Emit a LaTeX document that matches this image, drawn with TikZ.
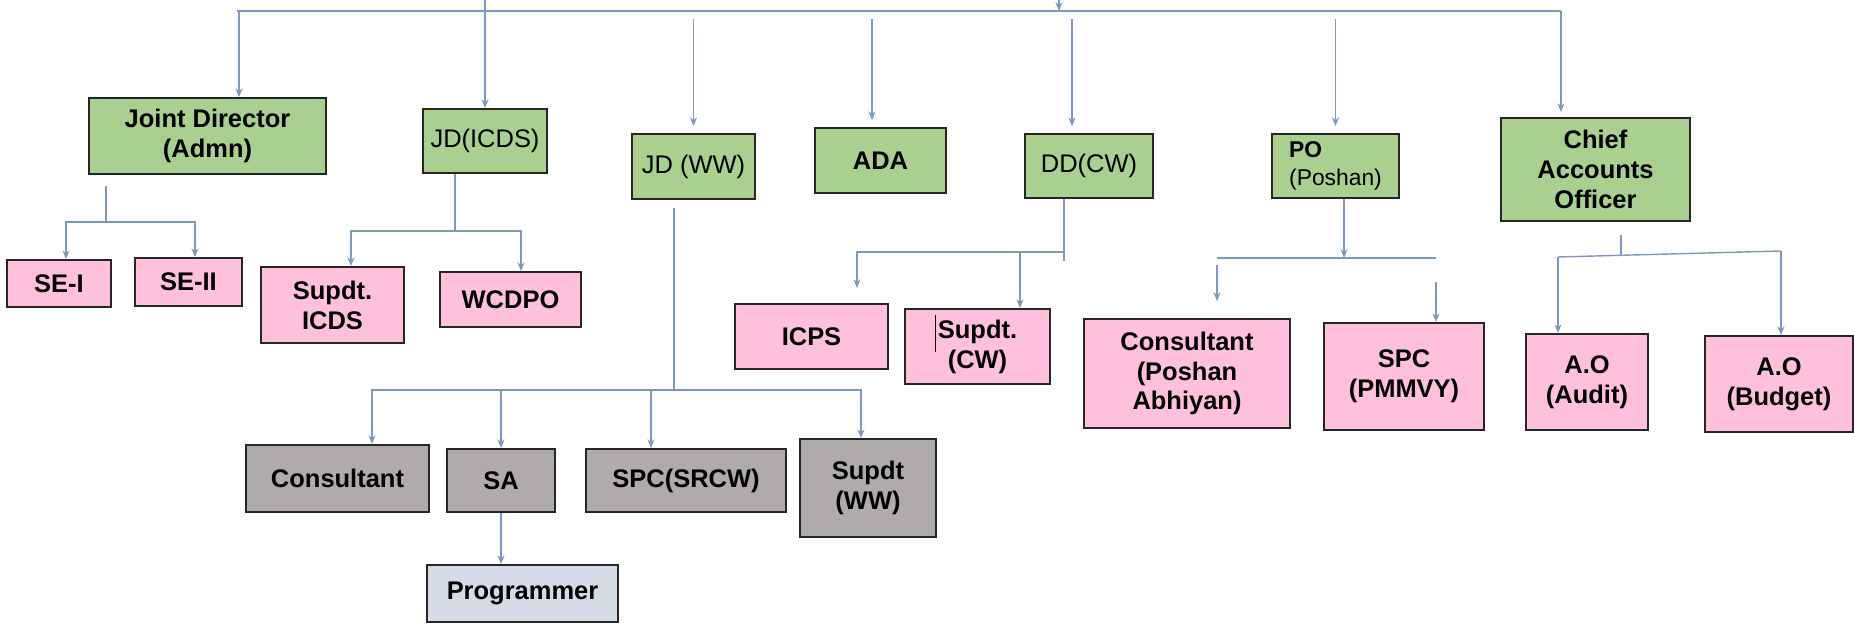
\documentclass[tikz,border=0pt]{standalone}
\usepackage{fontspec}
\setmainfont{Liberation Sans}
\usetikzlibrary{arrows.meta}
\definecolor{boxgreen}{RGB}{169,208,142}
\definecolor{boxpink}{RGB}{255,192,220}
\definecolor{boxgrey}{RGB}{175,171,171}
\definecolor{boxblue}{RGB}{214,220,229}
\definecolor{linkblue}{RGB}{127,152,190}
\begin{document}
\begin{tikzpicture}[x=0.02cm, y=-0.02cm,
        post/.style={draw=black!85, line width=1pt, align=center, inner sep=2pt,
                     font=\fontsize{14.5}{17}\selectfont\bfseries},
        thinfont/.style={font=\fontsize{14.5}{17}\selectfont},
        greenpost/.style={post, fill=boxgreen},
        pinkpost/.style={post, fill=boxpink},
        greypost/.style={post, fill=boxgrey},
        bluepost/.style={post, fill=boxblue},
        conn/.style={draw=linkblue, line width=0.8pt},
        arr/.style={conn, -{Stealth[length=5pt,width=4pt]}},
        loose/.style={shorten <=0.16cm, shorten >=0.14cm}]
    \useasboundingbox (0,0) rectangle (1854,624);
    % first level
    \node[greenpost, minimum width=4.74cm, minimum height=1.52cm] (jdadmn) at (207.5,136) {Joint Director\\(Admn)};
    \node[greenpost, thinfont, minimum width=2.48cm, minimum height=1.28cm] (jdicds) at (485,141) {JD(ICDS)};
    \node[greenpost, thinfont, minimum width=2.46cm, minimum height=1.30cm] (jdww) at (693.5,166.5) {JD (WW)};
    \node[greenpost, minimum width=2.62cm, minimum height=1.30cm] (ada) at (880.5,160.5) {ADA};
    \node[greenpost, thinfont, minimum width=2.56cm, minimum height=1.28cm] (ddcw) at (1089,166) {DD(CW)};
    \node[greenpost, align=left, font=\fontsize{13}{16}\selectfont\bfseries,
          minimum width=2.54cm, minimum height=1.28cm] (po) at (1335.5,166) {PO\\{\mdseries (Poshan)}};
    \node[greenpost, minimum width=3.78cm, minimum height=2.06cm] (cao) at (1595.5,169.5) {Chief\\Accounts\\Officer};
    % second level
    \node[pinkpost, minimum width=2.08cm, minimum height=0.94cm] (se1) at (59,283.5) {SE-I};
    \node[pinkpost, minimum width=2.14cm, minimum height=0.96cm] (se2) at (188.5,282) {SE-II};
    \node[pinkpost, minimum width=2.86cm, minimum height=1.52cm] (supicds) at (332.5,305) {Supdt.\\ICDS};
    \node[pinkpost, minimum width=2.82cm, minimum height=1.10cm] (wcdpo) at (510.5,299.5) {WCDPO};
    \node[pinkpost, minimum width=3.06cm, minimum height=1.30cm] (icps) at (811.5,336.5) {ICPS};
    \node[pinkpost, minimum width=2.90cm, minimum height=1.50cm] (supcw) at (977.5,346.5) {Supdt.\\(CW)};
    \node[pinkpost, minimum width=4.12cm, minimum height=2.18cm] (consposhan) at (1187,373.5) {Consultant\\(Poshan\\Abhiyan)};
    \node[pinkpost, minimum width=3.20cm, minimum height=2.14cm] (spcpmmvy) at (1404,376.5) {SPC\\(PMMVY)};
    \node[pinkpost, minimum width=2.44cm, minimum height=1.92cm] (aoaudit) at (1587,382) {A.O\\(Audit)};
    \node[pinkpost, minimum width=2.96cm, minimum height=1.92cm] (aobudget) at (1779,384) {A.O\\(Budget)};
    \node[greypost, minimum width=3.66cm, minimum height=1.34cm] (consult) at (337.5,478.5) {Consultant};
    \node[greypost, minimum width=2.16cm, minimum height=1.26cm] (sa) at (501,480.5) {SA};
    \node[greypost, minimum width=4.00cm, minimum height=1.26cm] (spcsrcw) at (686,480.5) {SPC(SRCW)};
    \node[greypost, minimum width=2.72cm, minimum height=1.96cm] (supww) at (868,488) {Supdt\\(WW)};
    \node[bluepost, minimum width=3.82cm, minimum height=1.14cm] (prog) at (522.5,593.5) {Programmer};
    % text cursor left in the box
    \draw[line width=0.7pt] ([shift={(31,-31)}]supcw.west) -- ++(0,37);
    % bus
    \coordinate (top) at (1059,0);
    \coordinate (busL) at (239,11);
    \coordinate (busR) at (1561,11);
    \draw[conn] ([xshift=-0.04cm]busL) -- (busR);
    \draw[arr] (top) -- (top |- busL);
    \draw[arr] (busL) -- (busL |- jdadmn.north);
    \draw[arr] (jdicds.north |- top) -- (jdicds.north);
    \draw[arr, loose] (jdww.north |- busL) -- (jdww.north);
    \draw[arr, loose] ([xshift=-0.17cm]ada.north |- busL) -- ([xshift=-0.17cm]ada.north);
    \draw[arr, loose] ([xshift=-0.34cm]ddcw.north |- busL) -- ([xshift=-0.34cm]ddcw.north);
    \draw[arr, loose] (po.north |- busL) -- (po.north);
    \draw[arr, shorten >=0.1cm] (busR) -- (busR |- cao.north);
    % admn
    \coordinate (admnB) at (106,222);
    \draw[conn] (admnB) -- ++(0,-36);
    \draw[arr] (admnB) -| ([xshift=0.14cm]se1.north);
    \draw[arr] (admnB) -| ([xshift=0.13cm]se2.north);
    % icds
    \coordinate (icdsB) at (455,231);
    \draw[conn] (jdicds.south -| icdsB) -- (icdsB);
    \draw[arr] (icdsB) -| ([xshift=0.37cm]supicds.north);
    \draw[arr] (icdsB) -| ([xshift=0.21cm]wcdpo.north);
    % ww
    \coordinate (wwB) at (674,390);
    \draw[conn, shorten <=0.16cm] (jdww.south -| wwB) -- (wwB);
    \draw[arr] (wwB) -| ([xshift=0.69cm]consult.north);
    \draw[arr] (wwB) -| (sa.north);
    \draw[arr] (wwB) -| ([xshift=-0.7cm]spcsrcw.north);
    \draw[arr] (wwB) -| ([xshift=-0.14cm]supww.north);
    \draw[arr] (sa.south) -- (sa.south |- prog.north);
    % cw
    \coordinate (ddB) at (1064,252);
    \draw[conn] (ddcw.south -| ddB) -- ([yshift=-0.18cm]ddB);
    \draw[arr, shorten >=0.3cm] (ddB) -| ([xshift=0.91cm]icps.north);
    \draw[arr] (ddB) -| ([xshift=0.85cm]supcw.north);
    % poshan
    \coordinate (poM) at (1344,258);
    \coordinate (poL) at (1217,258);
    \coordinate (poR) at (1436,258);
    \draw[arr] (po.south -| poM) -- (poM);
    \draw[conn] (poL) -- (poR);
    \draw[arr, shorten <=0.14cm, shorten >=0.34cm] (poL) -- (poL |- consposhan.north);
    \draw[arr, shorten <=0.48cm] (poR) -- (poR |- spcpmmvy.north);
    % accounts
    \coordinate (caoL) at (1558,257);
    \coordinate (caoR) at (1781,251);
    \coordinate (caoM) at (1621,255);
    \draw[conn] (caoL) -- (caoR);
    \draw[conn] (caoM) -- ++(0,-20);
    \draw[arr] (caoL) -- (caoL |- aoaudit.north);
    \draw[arr] (caoR) -- (caoR |- aobudget.north);
\end{tikzpicture}
\end{document}
